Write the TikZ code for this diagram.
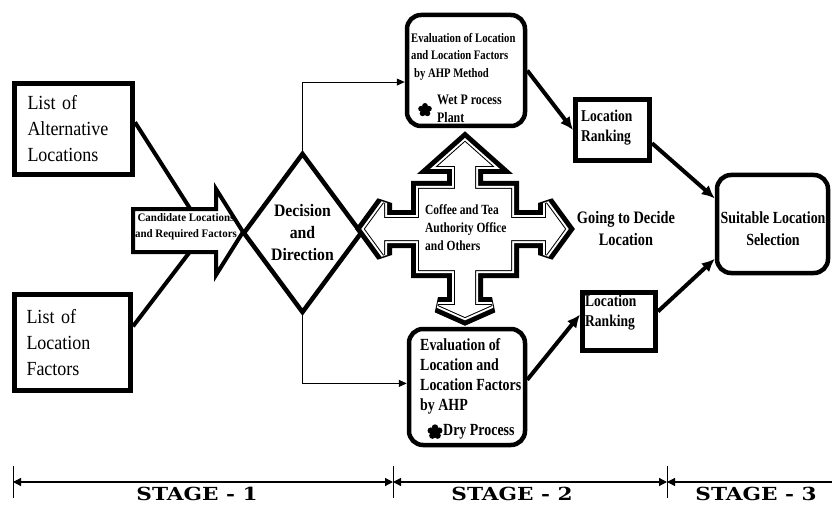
\documentclass[tikz,border=0pt]{standalone}
\usepackage{fontspec}
\setmainfont{Liberation Serif}
\newfontfamily\condR[FakeStretch=0.9]{Liberation Serif}
\newfontfamily\condB[FakeStretch=0.82]{Liberation Serif}
\newfontfamily\condC[FakeStretch=0.95]{Liberation Serif}
\newfontfamily\condD[FakeStretch=0.9]{Liberation Serif}
\newfontfamily\stagefont[FakeStretch=1.2]{DejaVu Serif}
\usetikzlibrary{arrows.meta,calc,shapes.geometric}
\begin{document}
\begin{tikzpicture}[x=1pt,y=-1pt,
  listbox/.style={draw, line width=5pt, rectangle, inner sep=0pt, align=left, text width=92pt, font=\condR\fontsize{20}{26}\selectfont},
  sqbox/.style={draw, line width=5pt, rectangle, inner sep=0pt},
  rbox/.style={draw, line width=4.5pt, rectangle, rounded corners=14pt, inner sep=0pt},
  txt/.style={inner sep=0pt, align=left},
  thickline/.style={line width=4pt},
  thickarr/.style={line width=4pt, -{Latex[length=13pt,width=12pt]}},
  thinarr/.style={line width=1pt, -{Triangle[length=8pt,width=7pt]}},
  stagebar/.style={line width=1.2pt},
  tickline/.style={line width=1pt},
  stagelbl/.style={inner sep=0pt, font=\stagefont\bfseries\fontsize{18}{18}\selectfont},
  flowerpic/.pic={\fill (0,0) circle (3.2pt); \foreach \a in {90,162,234,306,18} \fill (\a:4.1pt) circle (2.9pt);}
]
\fill[white] (0,0) rectangle (832,505);
\path[use as bounding box] (0,0) rectangle (832,505);

% left boxes
\node[listbox, minimum width=118pt, minimum height=91pt] (alt) at (73.5,129) {List of\\Alternative\\Locations};
\node[listbox, minimum width=116pt, minimum height=96pt] (fac) at (72.5,342.5) {List of\\Location\\Factors};

\coordinate (conv) at (205,232);
\draw[thickline] ($(alt.north east)!0.43!(alt.south east)$) -- (conv);
\draw[thickline] ($(fac.north east)!0.34!(fac.south east)$) -- (conv);

% candidate block arrow
\draw[line width=4pt, fill=white, line join=miter] (133,209) -- (216,209) -- (216,189) -- (243,232) -- (216,275) -- (216,252) -- (133,252) -- cycle;
\node[txt, align=center, font=\condC\bfseries\fontsize{11.5}{16}\selectfont] (cand) at (186,227) {Candidate Locations\\and Required Factors};

% diamond
\node[diamond, draw, line width=4.5pt, minimum width=106pt, minimum height=160pt, inner sep=0pt, align=center, font=\condD\bfseries\fontsize{17.5}{22}\selectfont] (dec) at (302.5,233) {Decision\\and\\Direction};

% evaluation boxes
\node[rbox, minimum width=118pt, minimum height=111pt] (evtop) at (466,70.5) {};
\node[rbox, minimum width=116pt, minimum height=116pt] (evbot) at (467,387) {};
\node[txt, anchor=west, font=\condB\bfseries\fontsize{13}{17.5}\selectfont] (evtoptxt) at (411,56.5) {Evaluation of Location\\and Location Factors\\\hspace*{3pt}by AHP Method};
\pic at (425,110) {flowerpic};
\node[txt, anchor=west, font=\condB\bfseries\fontsize{14.5}{18}\selectfont] (wettxt) at (437,109) {Wet P rocess\\Plant};
\node[txt, anchor=west, font=\condB\bfseries\fontsize{17}{20}\selectfont] (evbottxt) at (420,376) {Evaluation of\\Location and\\Location Factors\\by AHP};
\pic[scale=1.1] at (435,432) {flowerpic};
\node[txt, anchor=west, font=\condB\bfseries\fontsize{17}{20}\selectfont] (drytxt) at (443,432) {Dry Process};

% thin elbow arrows
\draw[thinarr] (dec.north) |- ($(evtop.north west)!0.6!(evtop.south west)$);
\draw[thinarr] (dec.south) |- ($(evbot.north west)!0.47!(evbot.south west)$);

% four-way arrow
\path[save path=\crossp] (465,142) -- (492,166) -- (475,166) -- (475,189) -- (511,189) -- (511,218) -- (546,218) -- (546,203) -- (565,229) -- (546,255) -- (546,240) -- (511,240) -- (511,270) -- (475,270) -- (475,305) -- (492,305) -- (465,317) -- (438,305) -- (455,305) -- (455,270) -- (419,270) -- (419,240) -- (384,240) -- (384,255) -- (365,229) -- (384,203) -- (384,218) -- (419,218) -- (419,189) -- (455,189) -- (455,166) -- (438,166) -- cycle;
\draw[line width=16pt, line join=miter, miter limit=3, use path=\crossp];
\draw[line width=6pt, white, line join=miter, miter limit=3, use path=\crossp];
\draw[line width=2pt, line join=miter, miter limit=3, use path=\crossp];
\fill[white, use path=\crossp];
\node[txt, anchor=west, font=\condB\bfseries\fontsize{14}{18}\selectfont] (coffee) at (425,228) {Coffee and Tea\\Authority Office\\and Others};

\node[txt, align=center, font=\condB\bfseries\fontsize{17.5}{22}\selectfont] (going) at (626,229) {Going to Decide\\Location};

% ranking boxes
\node[sqbox, minimum width=74pt, minimum height=61pt] (ranktop) at (612.5,130) {};
\node[txt, anchor=west, font=\condB\bfseries\fontsize{16.5}{20}\selectfont] (ranktoptxt) at (581,128) {Location\\Ranking};
\node[sqbox, minimum width=73pt, minimum height=58pt] (rankbot) at (619,321.5) {};
\node[txt, anchor=west, font=\condB\bfseries\fontsize{16.5}{20}\selectfont] (rankbottxt) at (585,313) {Location\\Ranking};

% suitable
\node[rbox, minimum width=111pt, minimum height=98pt] (suit) at (772.5,224) {};
\node[txt, align=center, font=\condB\bfseries\fontsize{17}{22}\selectfont] (suittxt) at (773,229) {Suitable Location\\Selection};

% thick arrows
\draw[thickarr] (evtop.east) -- (ranktop.west);
\draw[thickarr] ($(ranktop.north east)!0.7!(ranktop.south east)$) -- ($(suit.north west)!0.25!(suit.south west)$);
\draw[thickarr] ($(evbot.north east)!0.44!(evbot.south east)$) -- ($(rankbot.north west)!0.39!(rankbot.south west)$);
\draw[thickarr] ($(rankbot.north east)!0.34!(rankbot.south east)$) -- ($(suit.north west)!0.84!(suit.south west)$);

% stage bar
\coordinate (s0) at (13,482);
\coordinate (s1) at (393,482);
\coordinate (s2) at (667,482);
\coordinate (s3) at (832,482);
\coordinate (t0a) at (13,466); \coordinate (t0b) at (13,498);
\coordinate (t1a) at (393,466); \coordinate (t1b) at (393,498);
\coordinate (t2a) at (667,466); \coordinate (t2b) at (667,498);
\draw[tickline] (t0a) -- (t0b);
\draw[tickline] (t1a) -- (t1b);
\draw[tickline] (t2a) -- (t2b);
\draw[stagebar, {Triangle[length=8pt,width=8pt]}-{Triangle[length=8pt,width=8pt]}] (s0) -- (s1);
\draw[stagebar, {Triangle[length=8pt,width=8pt]}-{Triangle[length=8pt,width=8pt]}] (s1) -- (s2);
\draw[stagebar, {Triangle[length=8pt,width=8pt]}-] (s2) -- (s3);
\node[stagelbl] (st1) at (197,494) {STAGE - 1};
\node[stagelbl] (st2) at (512,494) {STAGE - 2};
\node[stagelbl] (st3) at (756,494) {STAGE - 3};
\end{tikzpicture}
\end{document}
